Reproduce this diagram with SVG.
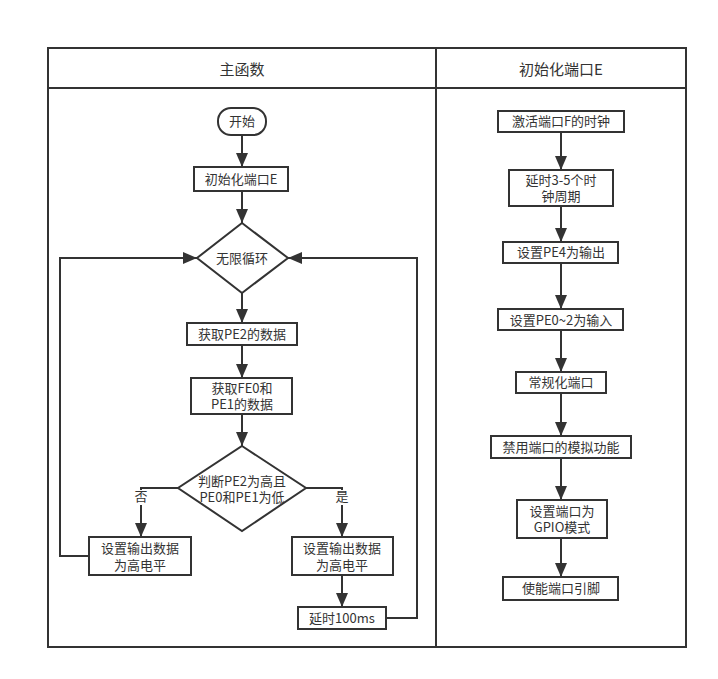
<svg xmlns="http://www.w3.org/2000/svg" width="718" height="679" viewBox="0 0 718 679">
  <style>
    .frame { fill: none; stroke: #333; stroke-width: 2; }
    .box { fill: #fff; stroke: #333; stroke-width: 2; }
    .link { fill: none; stroke: #333; stroke-width: 2; }
    text { font-family: "Noto Sans CJK SC", "Noto Sans", sans-serif; fill: #333; text-anchor: middle; }
    .t { font-size: 13px; }
    .h { font-size: 15px; }
    .lbl-bg { fill: #fff; }
  </style>
  <defs>
    <marker id="arrow" markerUnits="userSpaceOnUse" markerWidth="14" markerHeight="12" refX="14" refY="6" orient="auto">
      <path d="M0,0 L14,6 L0,12 Z" fill="#333"/>
    </marker>
  </defs>

  <rect width="718" height="679" fill="#fff"/>

  <!-- swimlane frame -->
  <g id="lanes">
    <rect class="frame" x="48" y="48" width="638" height="599"/>
    <line class="frame" x1="436" y1="48" x2="436" y2="647"/>
    <line class="frame" x1="48" y1="88" x2="686" y2="88"/>
    <text class="h" x="242" y="75">主函数</text>
    <text class="h" x="561" y="75">初始化端口E</text>
  </g>

  <!-- connectors -->
  <g id="connectors">
    <line class="link" x1="242" y1="135" x2="242" y2="167" marker-end="url(#arrow)"/>
    <line class="link" x1="242" y1="191" x2="242" y2="223" marker-end="url(#arrow)"/>
    <line class="link" x1="242" y1="293" x2="242" y2="323" marker-end="url(#arrow)"/>
    <line class="link" x1="242" y1="345" x2="242" y2="378" marker-end="url(#arrow)"/>
    <line class="link" x1="242" y1="414" x2="242" y2="446" marker-end="url(#arrow)"/>
    <polyline class="link" points="178,488 141,488 141,537" marker-end="url(#arrow)"/>
    <polyline class="link" points="306,488 342,488 342,537" marker-end="url(#arrow)"/>
    <line class="link" x1="342" y1="575" x2="342" y2="607" marker-end="url(#arrow)"/>
    <polyline class="link" points="89,556 60,556 60,258 197,258" marker-end="url(#arrow)"/>
    <polyline class="link" points="386,618 417,618 417,258 288,258" marker-end="url(#arrow)"/>

    <line class="link" x1="561" y1="132" x2="561" y2="170" marker-end="url(#arrow)"/>
    <line class="link" x1="561" y1="206" x2="561" y2="242" marker-end="url(#arrow)"/>
    <line class="link" x1="561" y1="263" x2="561" y2="309" marker-end="url(#arrow)"/>
    <line class="link" x1="561" y1="330" x2="561" y2="372" marker-end="url(#arrow)"/>
    <line class="link" x1="561" y1="393" x2="561" y2="436" marker-end="url(#arrow)"/>
    <line class="link" x1="561" y1="458" x2="561" y2="500" marker-end="url(#arrow)"/>
    <line class="link" x1="561" y1="538" x2="561" y2="577" marker-end="url(#arrow)"/>

    <rect class="lbl-bg" x="133" y="490" width="16" height="15"/>
    <text class="t" x="141" y="501">否</text>
    <rect class="lbl-bg" x="334" y="490" width="16" height="15"/>
    <text class="t" x="342" y="501">是</text>
  </g>

  <!-- main function -->
  <g id="start">
    <rect class="box" x="218" y="108" width="48" height="27" rx="13" ry="13"/>
    <text class="t" x="242" y="126">开始</text>
  </g>
  <g id="init-port-e">
    <rect class="box" x="194" y="167" width="94" height="24"/>
    <text class="t" x="241" y="184">初始化端口E</text>
  </g>
  <g id="loop">
    <polygon class="box" points="242,223 288,258 242,293 197,258"/>
    <text class="t" x="242" y="263">无限循环</text>
  </g>
  <g id="read-pe2">
    <rect class="box" x="187" y="323" width="110" height="22"/>
    <text class="t" x="242" y="339">获取PE2的数据</text>
  </g>
  <g id="read-pe0-pe1">
    <rect class="box" x="191" y="378" width="101" height="36"/>
    <text class="t" x="242" y="393">获取FE0和<tspan x="242" dy="16">PE1的数据</tspan></text>
  </g>
  <g id="check">
    <polygon class="box" points="242,446 306,488 242,531 178,488"/>
    <text class="t" x="242" y="486">判断PE2为高且<tspan x="242" dy="16">PE0和PE1为低</tspan></text>
  </g>
  <g id="set-high-no">
    <rect class="box" x="89" y="537" width="102" height="38"/>
    <text class="t" x="140" y="553">设置输出数据<tspan x="140" dy="17">为高电平</tspan></text>
  </g>
  <g id="set-high-yes">
    <rect class="box" x="292" y="537" width="101" height="38"/>
    <text class="t" x="342" y="553">设置输出数据<tspan x="342" dy="17">为高电平</tspan></text>
  </g>
  <g id="delay-100ms">
    <rect class="box" x="298" y="607" width="88" height="22"/>
    <text class="t" x="342" y="623">延时100ms</text>
  </g>

  <!-- port E initialisation -->
  <g id="enable-clock">
    <rect class="box" x="498" y="111" width="126" height="21"/>
    <text class="t" x="561" y="126">激活端口F的时钟</text>
  </g>
  <g id="wait-cycles">
    <rect class="box" x="509" y="170" width="104" height="36"/>
    <text class="t" x="561" y="185">延时3-5个时<tspan x="561" dy="16">钟周期</tspan></text>
  </g>
  <g id="pe4-output">
    <rect class="box" x="503" y="242" width="115" height="21"/>
    <text class="t" x="561" y="257">设置PE4为输出</text>
  </g>
  <g id="pe0-2-input">
    <rect class="box" x="498" y="309" width="125" height="21"/>
    <text class="t" x="561" y="325">设置PE0~2为输入</text>
  </g>
  <g id="normalize-port">
    <rect class="box" x="516" y="372" width="90" height="21"/>
    <text class="t" x="561" y="387">常规化端口</text>
  </g>
  <g id="disable-analog">
    <rect class="box" x="491" y="436" width="140" height="22"/>
    <text class="t" x="561" y="452">禁用端口的模拟功能</text>
  </g>
  <g id="gpio-mode">
    <rect class="box" x="517" y="500" width="90" height="38"/>
    <text class="t" x="562" y="516">设置端口为<tspan x="562" dy="16">GPIO模式</tspan></text>
  </g>
  <g id="enable-pins">
    <rect class="box" x="503" y="577" width="115" height="23"/>
    <text class="t" x="561" y="593">使能端口引脚</text>
  </g>
</svg>
